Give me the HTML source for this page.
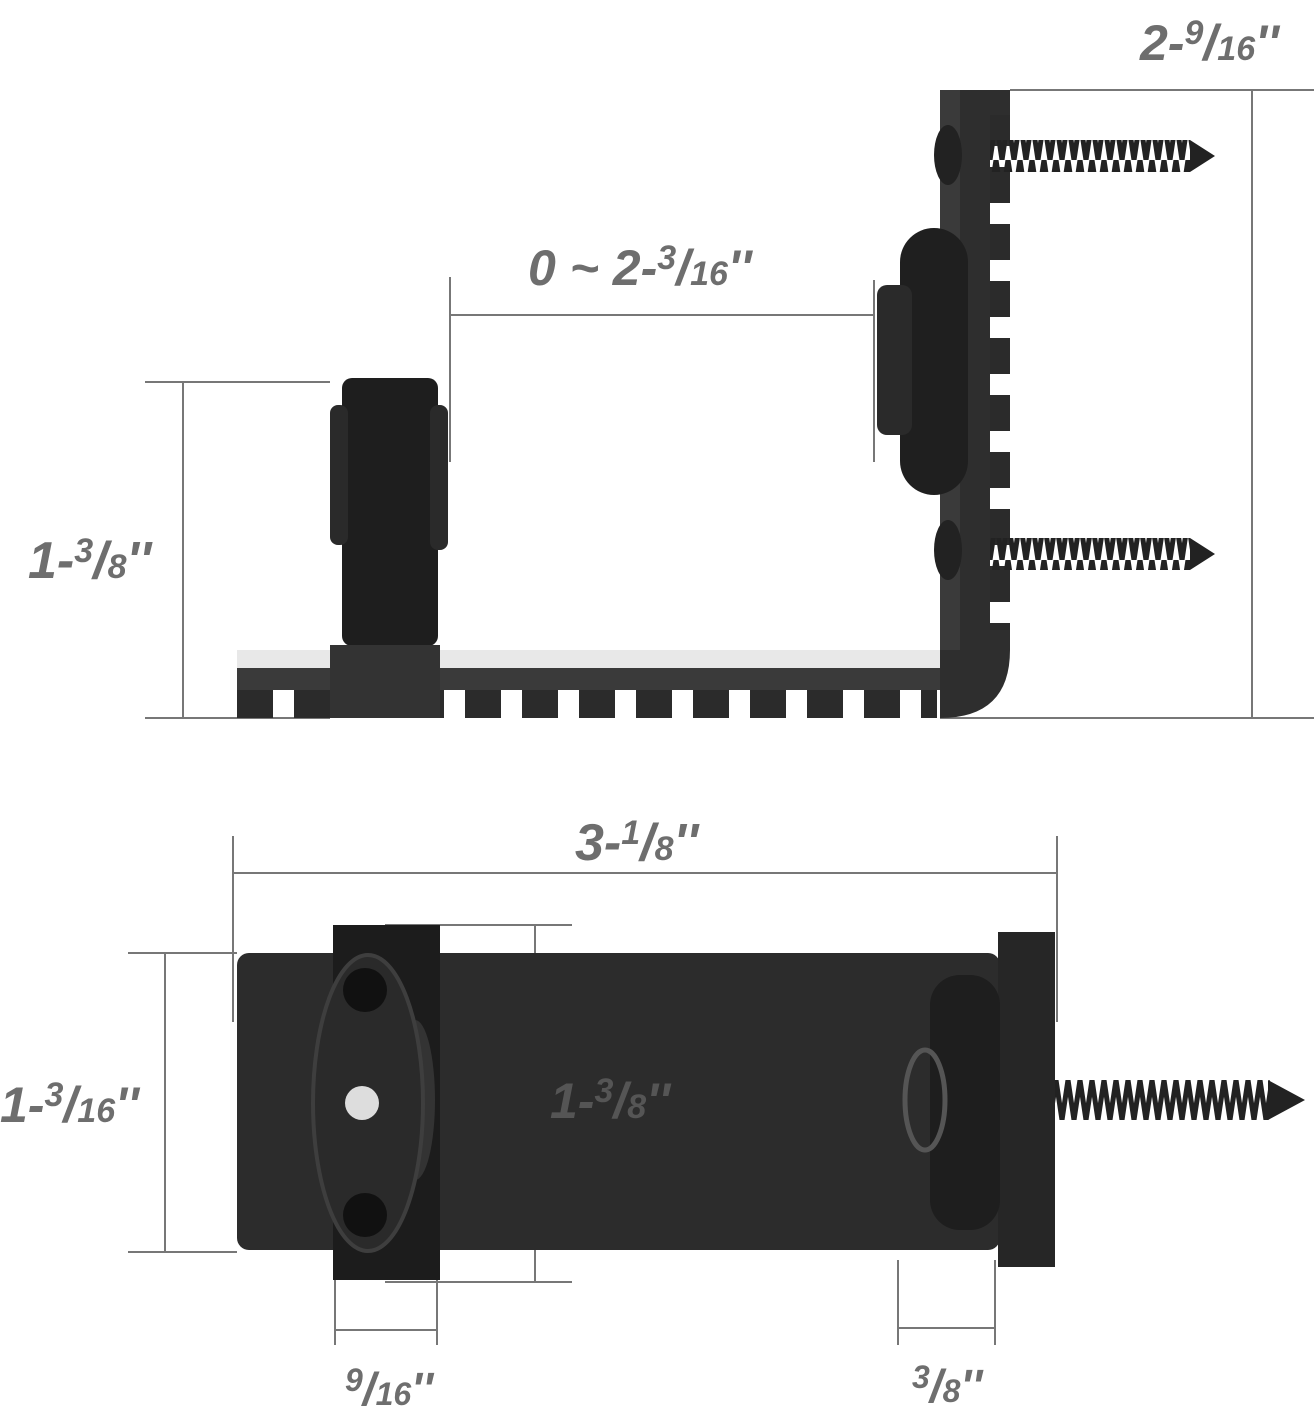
<!DOCTYPE html><html><head><style>
body{margin:0;background:#fff;width:1314px;height:1419px;overflow:hidden}
svg{display:block}
text{font-family:"Liberation Sans",sans-serif;font-weight:bold;font-style:italic;fill:#6e6e6e}
</style></head><body>
<svg width="1314" height="1419" viewBox="0 0 1314 1419">
<defs>
<pattern id="teeth" x="237" y="0" width="57" height="30" patternUnits="userSpaceOnUse"><rect x="0" y="0" width="36" height="30" fill="#2b2b2b"/></pattern>
<pattern id="vteeth" x="0" y="110" width="30" height="57" patternUnits="userSpaceOnUse"><rect x="0" y="0" width="30" height="36" fill="#2b2b2b"/></pattern>
<pattern id="thread" x="0" y="0" width="12" height="40" patternUnits="userSpaceOnUse"><path d="M0 0 L6 40 L12 0" stroke="#222" stroke-width="5" fill="none"/></pattern>
</defs>
<g stroke="#777" stroke-width="2" fill="none">
<path d="M145 382H330M145 718H330M183 382V718"/>
<path d="M450 277V462M874 280V462M450 315H874"/>
<path d="M1010 90H1314M940 718H1314M1252 90V718"/>
<path d="M233 836V1022M1057 836V1022M233 873H1057"/>
<path d="M128 953H237M128 1252H237M165 953V1252"/>
<path d="M385 925H572M385 1282H572M535 925V1282"/>
<path d="M335 1280V1345M437 1280V1345M335 1330H437"/>
<path d="M898 1260V1345M995 1260V1345M898 1328H995"/>
</g>
<rect x="237" y="650" width="720" height="18" fill="#e8e8e8"/>
<rect x="237" y="668" width="740" height="22" fill="#3a3a3a"/>
<rect x="237" y="690" width="700" height="28" fill="url(#teeth)"/>
<path d="M940 90H990V650Q990 700 960 690L940 718V90Z" fill="#2e2e2e"/>
<path d="M960 640Q960 668 940 690V718Q1010 718 1010 650V630H990V640Z" fill="#2e2e2e"/>
<rect x="940" y="90" width="20" height="560" fill="#3a3a3a"/>
<rect x="990" y="110" width="20" height="520" fill="url(#vteeth)"/>
<rect x="960" y="90" width="50" height="25" fill="#2e2e2e"/>
<rect x="342" y="378" width="96" height="268" rx="10" fill="#1e1e1e"/>
<rect x="330" y="405" width="18" height="140" rx="8" fill="#2a2a2a"/>
<rect x="430" y="405" width="18" height="145" rx="8" fill="#2a2a2a"/>
<rect x="330" y="645" width="110" height="73" fill="#333"/>
<rect x="900" y="228" width="68" height="267" rx="34" fill="#1f1f1f"/>
<rect x="877" y="285" width="35" height="150" rx="10" fill="#2a2a2a"/>
<ellipse cx="948" cy="155" rx="14" ry="30" fill="#222"/>
<ellipse cx="948" cy="550" rx="14" ry="30" fill="#222"/>
<rect x="990" y="140" width="200" height="32" fill="url(#thread)"/>
<path d="M1190 140L1215 156L1190 172Z" fill="#222"/>
<rect x="990" y="538" width="200" height="32" fill="url(#thread)"/>
<path d="M1190 538L1215 554L1190 570Z" fill="#222"/>
<rect x="237" y="953" width="763" height="297" rx="12" fill="#2c2c2c"/>
<rect x="333" y="925" width="107" height="355" fill="#1c1c1c"/>
<rect x="998" y="932" width="57" height="335" fill="#262626"/>
<rect x="930" y="975" width="70" height="255" rx="30" fill="#1e1e1e"/>
<ellipse cx="925" cy="1100" rx="20" ry="50" fill="none" stroke="#555" stroke-width="5"/>
<rect x="1055" y="1080" width="215" height="40" fill="url(#thread)"/>
<path d="M1268 1080L1305 1100L1268 1120Z" fill="#222"/>
<ellipse cx="415" cy="1100" rx="20" ry="80" fill="#333"/>
<ellipse cx="368" cy="1103" rx="55" ry="148" fill="#2a2a2a" stroke="#3e3e3e" stroke-width="4"/>
<circle cx="365" cy="990" r="22" fill="#111"/>
<circle cx="365" cy="1215" r="22" fill="#111"/>
<circle cx="362" cy="1103" r="17" fill="#ddd"/>
<text x="28" y="578" font-size="52">1-<tspan font-size="34" dy="-16">3</tspan><tspan dy="16">/</tspan><tspan font-size="34">8</tspan>''</text>
<text x="528" y="285" font-size="50">0 ~ 2-<tspan font-size="34" dy="-16">3</tspan><tspan dy="16">/</tspan><tspan font-size="34">16</tspan>''</text>
<text x="1140" y="60" font-size="50">2-<tspan font-size="34" dy="-16">9</tspan><tspan dy="16">/</tspan><tspan font-size="34">16</tspan>''</text>
<text x="575" y="860" font-size="52">3-<tspan font-size="34" dy="-16">1</tspan><tspan dy="16">/</tspan><tspan font-size="34">8</tspan>''</text>
<text x="0" y="1122" font-size="50">1-<tspan font-size="34" dy="-16">3</tspan><tspan dy="16">/</tspan><tspan font-size="34">16</tspan>''</text>
<text x="550" y="1118" font-size="50" style="fill:#555">1-<tspan font-size="34" dy="-16">3</tspan><tspan dy="16">/</tspan><tspan font-size="34">8</tspan>''</text>
<text x="345" y="1405" font-size="46"><tspan font-size="32" dy="-14">9</tspan><tspan dy="14">/</tspan><tspan font-size="32">16</tspan>''</text>
<text x="912" y="1402" font-size="46"><tspan font-size="32" dy="-14">3</tspan><tspan dy="14">/</tspan><tspan font-size="32">8</tspan>''</text>
</svg>
</body></html>
